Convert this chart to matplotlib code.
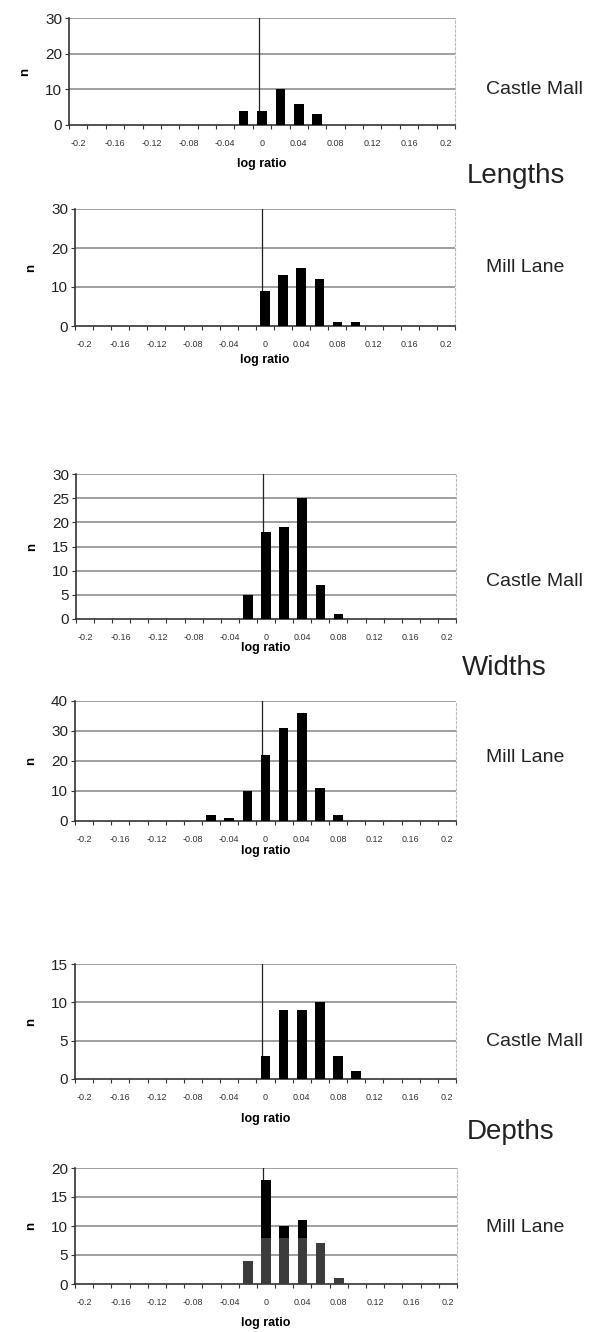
import numpy as np
import matplotlib
matplotlib.use("Agg")
from matplotlib import pyplot

pyplot.rcParams['font.family'] = ['Liberation Sans', 'DejaVu Sans']

# log ratio categories, -0.2 .. 0.2 in steps of 0.02
bins = np.round(np.arange(-0.2, 0.2001, 0.02), 2)
tickLabels = ['-0.2', '-0.16', '-0.12', '-0.08', '-0.04', '0', '0.04', '0.08', '0.12', '0.16', '0.2']

def counts(d):
    return [d.get(b, 0) for b in bins]

lengthsCastle = counts({-0.02: 4, 0.0: 4, 0.02: 10, 0.04: 6, 0.06: 3})
lengthsMill = counts({0.0: 9, 0.02: 13, 0.04: 15, 0.06: 12, 0.08: 1, 0.1: 1})
widthsCastle = counts({-0.02: 5, 0.0: 18, 0.02: 19, 0.04: 25, 0.06: 7, 0.08: 1})
widthsMill = counts({-0.06: 2, -0.04: 1, -0.02: 10, 0.0: 22, 0.02: 31, 0.04: 36, 0.06: 11, 0.08: 2})
depthsCastle = counts({0.0: 3, 0.02: 9, 0.04: 9, 0.06: 10, 0.08: 3, 0.1: 1})
# Mill Lane depths: grey part plus black part on top
depthsMillBase = counts({-0.02: 4, 0.0: 8, 0.02: 8, 0.04: 8, 0.06: 7, 0.08: 1})
depthsMillTotal = counts({-0.02: 4, 0.0: 18, 0.02: 10, 0.04: 11, 0.06: 7, 0.08: 1})

W, H = 590, 1332
fig = pyplot.figure(figsize=(W / 100, H / 100), dpi=100)

def px_axes(left, top, right, bottom):
    return fig.add_axes([left / W, 1 - bottom / H, (right - left) / W, (bottom - top) / H])

def panel(box, ymax, ystep, site, labelY, total, base=None, xpad=1):
    ax = px_axes(*box)
    bw = 0.0105
    ax.bar(bins, total, width=bw, color='#000000', zorder=3)
    if base is not None:
        ax.bar(bins, base, width=bw, color='#3c3c3c', zorder=4)
    ax.set_xlim(-0.21, 0.21)
    ax.set_ylim(0, ymax)
    yt = np.arange(0, ymax + 0.1, ystep)
    ax.set_yticks(yt)
    ax.set_yticklabels([str(int(v)) for v in yt], fontsize=11, color='#222222')
    for v in yt[1:]:
        ax.axhline(v, color='#858585', lw=1.1, zorder=1)
    ax.axvline(-0.0035, color='#222222', lw=0.9, zorder=2)
    # ticks between categories, labels on every other category
    ax.set_xticks(np.round(np.arange(-0.21, 0.2101, 0.02), 2))
    ax.set_xticklabels([])
    ax.set_xticks(bins[::2], minor=True)
    ax.set_xticklabels(tickLabels, minor=True, fontsize=6.5, color='#333333')
    ax.tick_params(axis='x', which='major', length=3, direction='out', color='#333333')
    ax.tick_params(axis='x', which='minor', length=0, pad=10)
    ax.tick_params(axis='y', length=3, direction='out', color='#333333', pad=2)
    ax.spines['top'].set_visible(False)
    ax.spines['right'].set_color('#bbbbbb')
    ax.spines['right'].set_linestyle((0, (2, 2)))
    ax.spines['left'].set_color('#333333')
    ax.spines['bottom'].set_color('#333333')
    ax.spines['left'].set_linewidth(1.2)
    ax.spines['bottom'].set_linewidth(1.2)
    ax.set_xlabel('log ratio', fontsize=9, fontweight='bold', labelpad=xpad)
    ax.set_ylabel('n', fontsize=9.5, fontweight='bold', labelpad=10)
    fig.text(486 / W, 1 - labelY / H, site, fontsize=14, ha='left', va='center', color='#222222')
    return ax

panel((69, 18, 455, 125), 30, 10, 'Castle Mall', 90, lengthsCastle, xpad=7)
panel((75, 209, 455, 326), 30, 10, 'Mill Lane', 268, lengthsMill, xpad=4)
panel((76, 474, 456, 619), 30, 5, 'Castle Mall', 582, widthsCastle, xpad=0)
panel((75, 701, 456, 821), 40, 10, 'Mill Lane', 758, widthsMill, xpad=0.5)
panel((75, 964, 456, 1079), 15, 5, 'Castle Mall', 1041, depthsCastle, xpad=8)
panel((75, 1168, 457, 1284), 20, 5, 'Mill Lane', 1228, depthsMillTotal, depthsMillBase, xpad=7)

fig.text(467 / W, 1 - 176 / H, 'Lengths', fontsize=20, ha='left', va='center', color='#222222')
fig.text(462 / W, 1 - 668 / H, 'Widths', fontsize=20, ha='left', va='center', color='#222222')
fig.text(467 / W, 1 - 1132 / H, 'Depths', fontsize=20, ha='left', va='center', color='#222222')

fig.savefig('out.png', dpi=100)
